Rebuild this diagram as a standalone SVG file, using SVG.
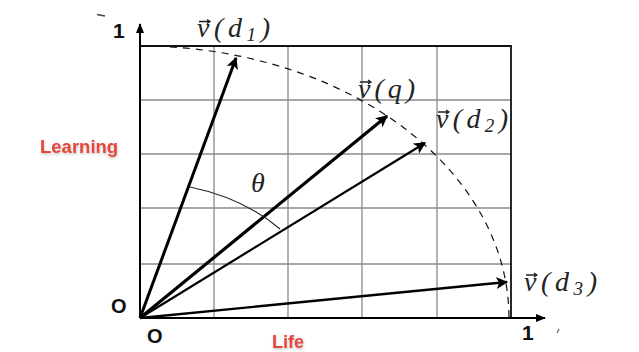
<svg xmlns="http://www.w3.org/2000/svg" width="639" height="352" viewBox="0 0 639 352">
<style>
.grid{stroke:#8a8a8a;stroke-width:1.3;fill:none}
.border{stroke:#111;stroke-width:1.8;fill:none}
.axis{stroke:#000;stroke-width:2;fill:none}
.vec{stroke:#000;fill:none}
.dash{stroke:#111;stroke-width:1.2;fill:none;stroke-dasharray:7 6}
.lbl{font-family:"Liberation Serif","Times New Roman",serif;font-style:italic;font-size:28px;fill:#222}
.sub{font-size:19px}
.num{font-family:"Liberation Sans",Arial,sans-serif;font-weight:bold;fill:#111}
.red{font-family:"Liberation Sans",Arial,sans-serif;font-weight:bold;fill:#e8453a}
.varrow{stroke:#222;stroke-width:1.3;fill:none}
</style>
<defs>
<marker id="ah" viewBox="0 0 10 10" refX="9" refY="5" markerWidth="12" markerHeight="12" markerUnits="userSpaceOnUse" orient="auto">
<path d="M0,0 L10,5 L0,10 L2.5,5 z" fill="#000"/>
</marker>
<marker id="ahs" viewBox="0 0 10 10" refX="9" refY="5" markerWidth="10" markerHeight="10" markerUnits="userSpaceOnUse" orient="auto">
<path d="M0,1 L10,5 L0,9 z" fill="#000"/>
</marker>
<filter id="sh" x="-10%" y="-30%" width="120%" height="160%">
<feDropShadow dx="0.5" dy="1.5" stdDeviation="1" flood-color="#999" flood-opacity="0.6"/>
</filter>
</defs>

<g id="grid">
<path class="grid" d="M214,46V318M288,46V318M362,46V318M437,46V318M140,100H511M140,154H511M140,208H511M140,264H511"/>
<path class="border" d="M140,46H511V318"/>
</g>

<g id="axes">
<path class="axis" d="M140,318V24" marker-end="url(#ahs)"/>
<path class="axis" d="M140,318H545" marker-end="url(#ahs)"/>
</g>

<g id="circle">
<path class="dash" d="M170,46.9 A369 272 0 0 1 509 318"/>
</g>

<g id="connectors">
<path class="vec" stroke-width="3" d="M140,318L236,58" marker-end="url(#ah)"/>
<path class="vec" stroke-width="3.2" d="M140,318L387,116" marker-end="url(#ah)"/>
<path class="vec" stroke-width="2.2" d="M140,318L425,143" marker-end="url(#ah)"/>
<path class="vec" stroke-width="2.4" d="M140,318L507,282" marker-end="url(#ah)"/>
<path d="M190,187 A185 136 0 0 1 280 229" stroke="#222" stroke-width="1.1" fill="none"/>
</g>

<g id="label-d1">
<path class="varrow" d="M199,21.5H210M207,19.5L210,21.5L207,23.5"/>
<text class="lbl" x="197" y="37" textLength="73" lengthAdjust="spacing">v(d<tspan class="sub" dy="4">1</tspan><tspan dy="-4">)</tspan></text>
</g>
<g id="label-q">
<path class="varrow" d="M360,82H371M368,80L371,82L368,84"/>
<text class="lbl" x="358" y="98" textLength="57" lengthAdjust="spacing">v(q)</text>
</g>
<g id="label-d2">
<path class="varrow" d="M438,112H449M446,110L449,112L446,114"/>
<text class="lbl" x="436" y="128" textLength="72" lengthAdjust="spacing">v(d<tspan class="sub" dy="4">2</tspan><tspan dy="-4">)</tspan></text>
</g>
<g id="label-d3">
<path class="varrow" d="M526,275H537M534,273L537,275L534,277"/>
<text class="lbl" x="524" y="291" textLength="73" lengthAdjust="spacing">v(d<tspan class="sub" dy="4">3</tspan><tspan dy="-4">)</tspan></text>
</g>
<g id="label-theta">
<text class="lbl" x="251" y="192" font-size="20">θ</text>
</g>

<g id="axis-labels">
<text class="num" x="113" y="38" font-size="21">1</text>
<text class="num" x="522" y="340" font-size="21">1</text>
<text class="num" x="111" y="313" font-size="20">O</text>
<text class="num" x="147" y="343" font-size="20">O</text>
<text class="red" x="40" y="153" font-size="18.5" filter="url(#sh)">Learning</text>
<text class="red" x="272" y="348" font-size="18" filter="url(#sh)">Life</text>
</g>
<g id="marks">
<path d="M97,14.5L105,16" stroke="#444" stroke-width="1.5"/>
<path d="M559,329L557,333" stroke="#666" stroke-width="1.2"/>
</g>
</svg>
